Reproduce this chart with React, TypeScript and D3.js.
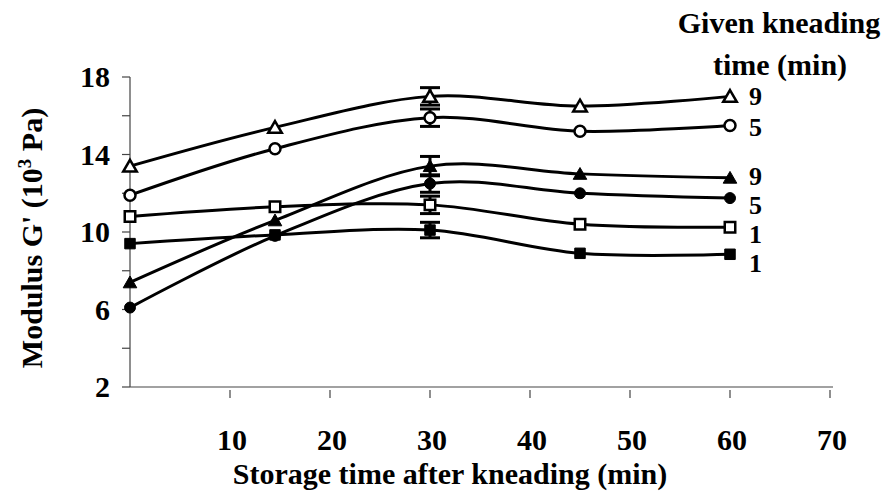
import { useEffect, useRef } from "react";
import * as d3 from "d3";

// storage time after kneading (min)
const times = [0, 14.5, 30, 45, 60];

// modulus G' (10^3 Pa), one array per series
const openTri9 = [13.4, 15.4, 17.0, 16.5, 17.0];
const openCirc5 = [11.9, 14.3, 15.9, 15.2, 15.5];
const fillTri9 = [7.4, 10.6, 13.4, 13.0, 12.8];
const fillCirc5 = [6.1, 9.8, 12.5, 12.0, 11.75];
const openSq1 = [10.8, 11.3, 11.4, 10.4, 10.25];
const fillSq1 = [9.4, 9.85, 10.1, 8.9, 8.85];

// error (+/-) at 30 min
const err30 = [0.45, 0.45, 0.5, 0.45, 0.45, 0.4];

const seriesLabels = ["9", "5", "9", "5", "1", "1"];
const shapes = ["triangle", "circle", "triangle", "circle", "square", "square"];
const filled = [false, false, true, true, false, true];
const allValues = [openTri9, openCirc5, fillTri9, fillCirc5, openSq1, fillSq1];

const yTicks = [2, 4, 6, 8, 10, 12, 14, 16, 18];
const yTickLabels = [2, 6, 10, 14, 18];
const xTicks = [10, 20, 30, 40, 50, 60, 70];

const App = () => {
    const svgRef = useRef(null);

    useEffect(() => {
        const width = 890;
        const height = 493;
        const svg = d3.select(svgRef.current);
        svg.selectAll("*").remove();

        const font = '"Liberation Serif", "Times New Roman", Times, serif';

        const x = d3.scaleLinear().domain([0, 70]).range([130, 830]);
        const y = d3.scaleLinear().domain([2, 18]).range([387, 77]);

        svg.attr("viewBox", `0 0 ${width} ${height}`)
            .style("font-family", font)
            .style("font-weight", "bold");

        // axes
        const axisColor = "#444";
        svg.append("line")
            .attr("x1", x(0)).attr("x2", x(0))
            .attr("y1", y(18)).attr("y2", y(2))
            .attr("stroke", axisColor).attr("stroke-width", 1.2);
        svg.append("line")
            .attr("x1", x(0)).attr("x2", x(70) + 3)
            .attr("y1", y(2)).attr("y2", y(2))
            .attr("stroke", axisColor).attr("stroke-width", 1.2);

        yTicks.forEach((t) => {
            svg.append("line")
                .attr("x1", x(0) - 8).attr("x2", x(0))
                .attr("y1", y(t)).attr("y2", y(t))
                .attr("stroke", axisColor).attr("stroke-width", 1.2);
        });
        yTickLabels.forEach((t) => {
            svg.append("text")
                .attr("x", 110)
                .attr("y", y(t) + 10)
                .attr("text-anchor", "end")
                .style("font-size", "30px")
                .text(t);
        });

        xTicks.forEach((t) => {
            svg.append("line")
                .attr("x1", x(t)).attr("x2", x(t))
                .attr("y1", y(2) + 3).attr("y2", y(2) + 11)
                .attr("stroke", axisColor).attr("stroke-width", 1.2);
            svg.append("text")
                .attr("x", x(t) + 2)
                .attr("y", 450)
                .attr("text-anchor", "middle")
                .style("font-size", "30px")
                .text(t);
        });

        // axis titles
        svg.append("text")
            .attr("x", 450)
            .attr("y", 484)
            .attr("text-anchor", "middle")
            .style("font-size", "30px")
            .text("Storage time after kneading (min)");

        const yt = svg.append("text")
            .attr("transform", "translate(42,238) rotate(-90)")
            .attr("text-anchor", "middle")
            .style("font-size", "30px");
        yt.append("tspan").text("Modulus G' (10");
        yt.append("tspan").attr("dy", -11).style("font-size", "19px").text("3");
        yt.append("tspan").attr("dy", 11).text(" Pa)");

        // legend title
        svg.append("text")
            .attr("x", 779).attr("y", 33)
            .attr("text-anchor", "middle")
            .style("font-size", "30px")
            .text("Given kneading");
        svg.append("text")
            .attr("x", 780).attr("y", 75)
            .attr("text-anchor", "middle")
            .style("font-size", "30px")
            .text("time (min)");

        const line = d3.line()
            .x((d) => x(d[0]))
            .y((d) => y(d[1]))
            .curve(d3.curveCardinal.tension(0));

        // lines
        allValues.forEach((vals) => {
            svg.append("path")
                .attr("d", line(times.map((t, i) => [t, vals[i]])))
                .attr("fill", "none")
                .attr("stroke", "#000")
                .attr("stroke-width", 3);
        });

        // error bars at 30 min
        const i30 = times.indexOf(30);
        allValues.forEach((vals, s) => {
            const cx = x(30);
            const top = y(vals[i30] + err30[s]);
            const bot = y(vals[i30] - err30[s]);
            const g = svg.append("g").attr("stroke", "#000").attr("stroke-width", 3);
            g.append("line").attr("x1", cx).attr("x2", cx).attr("y1", top).attr("y2", bot);
            g.append("line").attr("x1", cx - 10).attr("x2", cx + 10).attr("y1", top).attr("y2", top);
            g.append("line").attr("x1", cx - 10).attr("x2", cx + 10).attr("y1", bot).attr("y2", bot);
        });

        // markers
        const symbolType = {
            triangle: d3.symbolTriangle,
            circle: d3.symbolCircle,
            square: d3.symbolSquare,
        };
        const symbolSize = { triangle: 80, circle: 95, square: 110 };
        // nudge the stacked end labels apart so they don't collide
        const labelShift = [0, 2, -2, 7, 7, 9];
        allValues.forEach((vals, s) => {
            const sym = d3.symbol().type(symbolType[shapes[s]]).size(symbolSize[shapes[s]]);
            times.forEach((t, i) => {
                const dy = shapes[s] === "triangle" ? 1.5 : 0;
                svg.append("path")
                    .attr("d", sym())
                    .attr("transform", `translate(${x(t)},${y(vals[i]) + dy})`)
                    .attr("fill", filled[s] ? "#000" : "#fff")
                    .attr("stroke", "#000")
                    .attr("stroke-width", filled[s] ? 1 : 2.5);
            });
            // end label
            const last = vals[vals.length - 1];
            svg.append("text")
                .attr("x", 749)
                .attr("y", y(last) + 9 + labelShift[s])
                .style("font-size", "26px")
                .text(seriesLabels[s]);
        });
    }, []);

    return (
        <svg
            ref={svgRef}
            width={890}
            height={493}
            style={{ position: "absolute", left: 0, top: 0, background: "#fff" }}
        />
    );
};

export default App;
